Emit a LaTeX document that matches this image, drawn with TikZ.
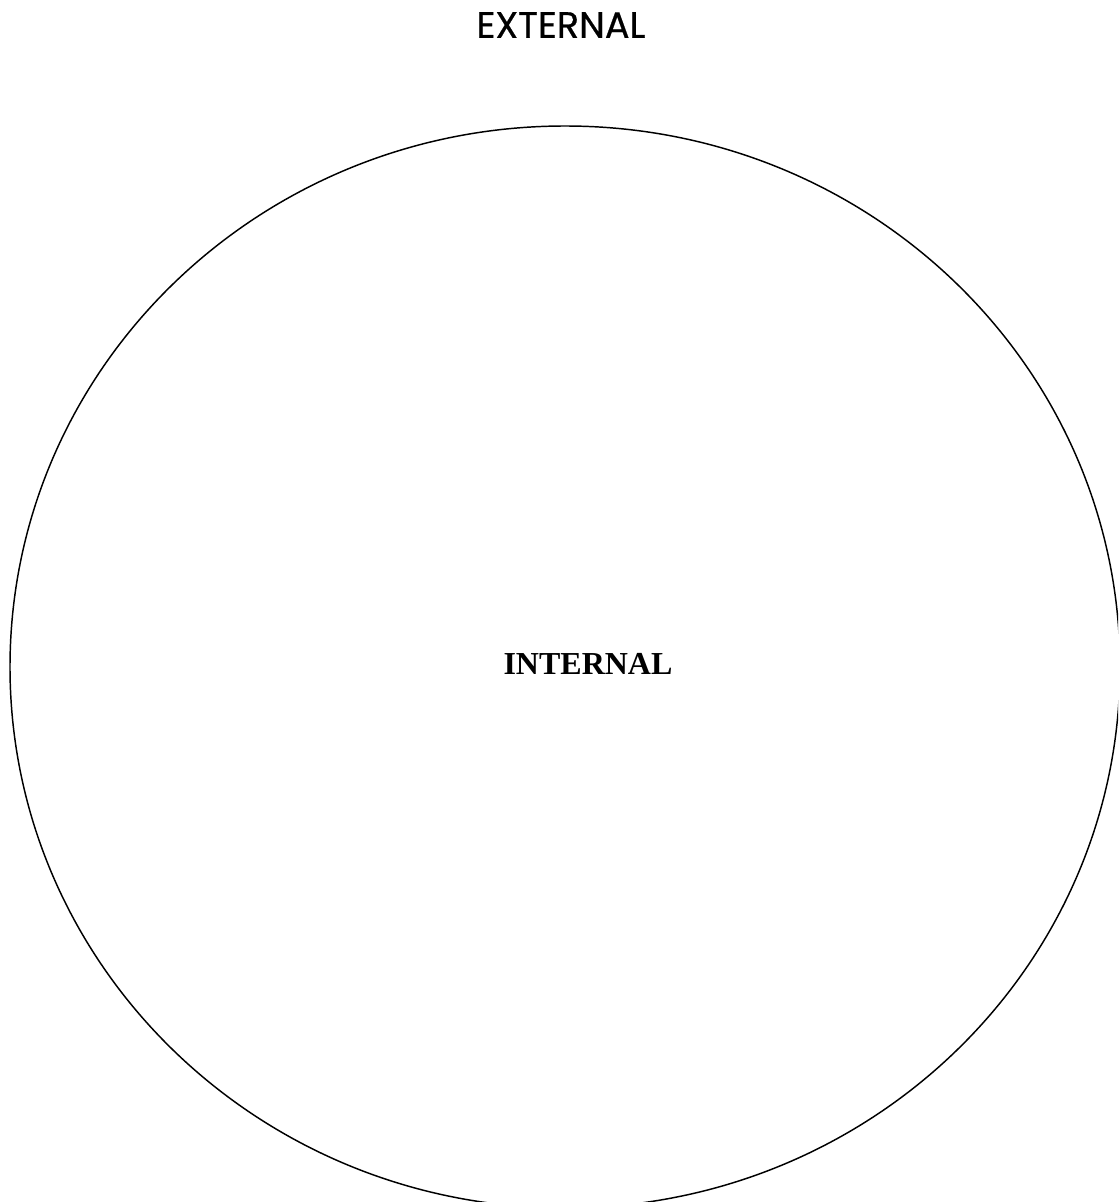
\documentclass[tikz,border=0pt]{standalone}
\usepackage{fontspec}
\usepackage{tikz}
\newfontfamily\extfont[FakeBold=0.6]{Poppins}
\newfontfamily\intfont{Liberation Serif}

\begin{document}
\begin{tikzpicture}[
  x=0.75pt,y=-0.75pt,
  boundary/.style={draw=black, line width=1.1pt},
  outerlabel/.style={font=\extfont\fontsize{27.5}{31}\selectfont, text=black},
  innerlabel/.style={font=\intfont\bfseries\fontsize{24}{28}\selectfont, text=black}
]

% page frame
\useasboundingbox (0,0) rectangle (1118,1202);
\clip (0,0) rectangle (1118,1202);

% the boundary
\draw[boundary] (565,667) ellipse [x radius=555, y radius=541];

% labels
\node[outerlabel] (external) at (561,25) {EXTERNAL};
\node[innerlabel] (internal) at (588,664) {INTERNAL};

\end{tikzpicture}
\end{document}
